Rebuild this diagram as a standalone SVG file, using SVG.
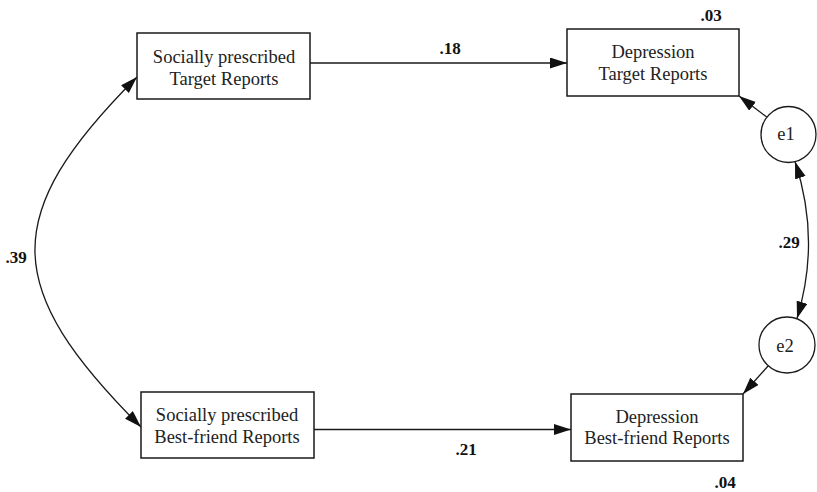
<svg xmlns="http://www.w3.org/2000/svg" width="817" height="492" viewBox="0 0 817 492">
<style>
.box{fill:#fff;stroke:#1a1a1a;stroke-width:1.5}
.ell{fill:#fff;stroke:#1a1a1a;stroke-width:1.3}
.t{font-family:"Liberation Serif","Times New Roman",serif;font-size:18.5px;fill:#222;text-anchor:middle}
.n{font-family:"Liberation Serif","Times New Roman",serif;font-size:17px;font-weight:bold;fill:#111;text-anchor:middle}
.c{fill:none;stroke:#1a1a1a;stroke-width:1.3}
</style>
<defs>
<marker id="ah" markerUnits="userSpaceOnUse" markerWidth="18" markerHeight="12" refX="17" refY="5.5" orient="auto-start-reverse" viewBox="0 0 18 12">
<path d="M0,0 L17,5.5 L0,11 z" fill="#111"/>
</marker>
</defs>
<g id="connectors">
<path class="c" d="M307,63 L567,63" marker-end="url(#ah)"/>
<path class="c" d="M314,429.5 L571,429.5" marker-end="url(#ah)"/>
<path class="c" d="M766.7,117.1 L739,96" marker-end="url(#ah)"/>
<path class="c" d="M768.3,365.8 L743,394" marker-end="url(#ah)"/>
<path class="c" d="M137,77 C-1.7,215.7 2.3,288.3 141,427" marker-start="url(#ah)" marker-end="url(#ah)"/>
<path class="c" d="M795,161.5 Q821,240 797,318.5" marker-start="url(#ah)" marker-end="url(#ah)"/>
</g>
<g id="sp_target">
<rect class="box" x="137" y="33" width="173" height="66"/>
<text class="t" x="224" y="62.5">Socially prescribed</text>
<text class="t" x="224" y="84.5">Target Reports</text>
</g>
<g id="dep_target">
<rect class="box" x="567" y="29" width="172" height="67"/>
<text class="t" x="653" y="58">Depression</text>
<text class="t" x="653" y="80">Target Reports</text>
</g>
<g id="sp_bf">
<rect class="box" x="141" y="392" width="173" height="66"/>
<text class="t" x="227" y="420.5">Socially prescribed</text>
<text class="t" x="227" y="443">Best-friend Reports</text>
</g>
<g id="dep_bf">
<rect class="box" x="571" y="394" width="172" height="67"/>
<text class="t" x="657" y="422.5">Depression</text>
<text class="t" x="657" y="444">Best-friend Reports</text>
</g>
<g id="e1">
<ellipse class="ell" cx="788.5" cy="134.5" rx="27.5" ry="28"/>
<text class="t" x="786" y="140">e1</text>
</g>
<g id="e2">
<ellipse class="ell" cx="787" cy="345" rx="28" ry="28"/>
<text class="t" x="785" y="351.5">e2</text>
</g>
<g id="labels">
<text class="n" x="450" y="54">.18</text>
<text class="n" x="711" y="21">.03</text>
<text class="n" x="16" y="263">.39</text>
<text class="n" x="789" y="248">.29</text>
<text class="n" x="466" y="455">.21</text>
<text class="n" x="725" y="488">.04</text>
</g>
</svg>
